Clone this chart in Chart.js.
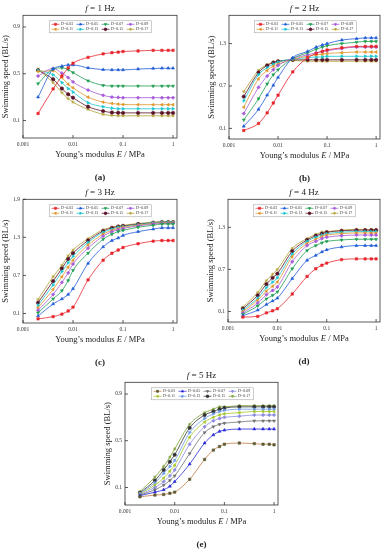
<!DOCTYPE html>
<html>
<head>
<meta charset="utf-8">
<script src="https://cdn.jsdelivr.net/npm/chart.js@4.4.1/dist/chart.umd.min.js"></script>
<style>
  html, body { margin: 0; padding: 0; background: #fff; }
  #fig { position: relative; width: 385px; height: 550px; overflow: hidden;
         font-family: "Liberation Serif", "DejaVu Serif", serif; color: #222; }
  #fig canvas { position: absolute; }
  .txt { position: absolute; transform: translate(-50%, -50%); white-space: nowrap; line-height: 1; }
  .ttl { font-size: 9px; }
  .xt { font-size: 8.5px; }
  .lbl { font-size: 9px; font-weight: bold; }
</style>
</head>
<body>
<div id="fig"></div>
<script>
/* Swimming speed vs Young's modulus, five driving frequencies */
var modulus = [0.002, 0.004, 0.006, 0.008, 0.01, 0.02, 0.04, 0.06, 0.08, 0.1, 0.2, 0.4, 0.6, 0.8, 1];
var dLabels = ['D=0.03', 'D=0.05', 'D=0.07', 'D=0.09', 'D=0.11', 'D=0.13', 'D=0.15', 'D=0.17'];
var xTicks = [0.001, 0.01, 0.1, 1];
var yTicks1 = [0.1, 0.5, 0.9];
var yTicks2 = [0.1, 0.7, 1.3];
var yTicks3 = [0.1, 0.7, 1.3, 1.9];
var yTicks4 = [0.1, 0.7, 1.3];
var yTicks5 = [0.1, 0.5, 0.9];

// one row per D value, columns follow `modulus`
var speed1Hz = [
  [0.16, 0.37, 0.48, 0.55, 0.59, 0.64, 0.67, 0.68, 0.685, 0.69, 0.695, 0.70, 0.70, 0.70, 0.70],
  [0.30, 0.54, 0.565, 0.575, 0.575, 0.55, 0.535, 0.533, 0.533, 0.533, 0.54, 0.545, 0.547, 0.547, 0.547],
  [0.415, 0.54, 0.55, 0.535, 0.51, 0.44, 0.40, 0.395, 0.395, 0.395, 0.395, 0.395, 0.395, 0.395, 0.395],
  [0.48, 0.545, 0.505, 0.467, 0.43, 0.36, 0.315, 0.30, 0.297, 0.295, 0.295, 0.295, 0.295, 0.295, 0.295],
  [0.52, 0.525, 0.467, 0.41, 0.38, 0.30, 0.257, 0.245, 0.24, 0.237, 0.235, 0.235, 0.235, 0.235, 0.235],
  [0.53, 0.49, 0.424, 0.373, 0.343, 0.252, 0.218, 0.205, 0.20, 0.20, 0.20, 0.20, 0.20, 0.20, 0.20],
  [0.53, 0.453, 0.373, 0.324, 0.295, 0.218, 0.18, 0.168, 0.166, 0.165, 0.165, 0.165, 0.165, 0.165, 0.165],
  [0.54, 0.424, 0.338, 0.287, 0.257, 0.195, 0.152, 0.143, 0.14, 0.14, 0.14, 0.14, 0.14, 0.14, 0.14]
];
var speed2Hz = [
  [0.07, 0.17, 0.32, 0.46, 0.57, 0.90, 1.10, 1.16, 1.19, 1.21, 1.24, 1.26, 1.26, 1.26, 1.26],
  [0.13, 0.37, 0.57, 0.71, 0.82, 1.10, 1.19, 1.25, 1.28, 1.30, 1.35, 1.37, 1.38, 1.38, 1.38],
  [0.22, 0.52, 0.73, 0.86, 0.93, 1.09, 1.17, 1.22, 1.25, 1.27, 1.30, 1.32, 1.33, 1.33, 1.33],
  [0.31, 0.68, 0.84, 0.93, 0.99, 1.09, 1.14, 1.17, 1.19, 1.20, 1.23, 1.25, 1.25, 1.25, 1.25],
  [0.40, 0.80, 0.92, 0.98, 1.01, 1.08, 1.12, 1.14, 1.15, 1.16, 1.17, 1.18, 1.18, 1.18, 1.18],
  [0.49, 0.86, 0.96, 1.01, 1.04, 1.08, 1.10, 1.11, 1.11, 1.12, 1.12, 1.12, 1.12, 1.12, 1.12],
  [0.55, 0.89, 0.99, 1.03, 1.05, 1.07, 1.07, 1.07, 1.07, 1.07, 1.07, 1.07, 1.07, 1.07, 1.07],
  [0.62, 0.92, 1.00, 1.04, 1.05, 1.06, 1.05, 1.05, 1.05, 1.05, 1.05, 1.05, 1.05, 1.05, 1.05]
];
var speed3Hz = [
  [0.015, 0.05, 0.09, 0.14, 0.20, 0.63, 0.94, 1.05, 1.10, 1.14, 1.20, 1.24, 1.25, 1.25, 1.25],
  [0.06, 0.25, 0.33, 0.40, 0.49, 0.89, 1.15, 1.25, 1.29, 1.33, 1.39, 1.43, 1.45, 1.45, 1.45],
  [0.11, 0.33, 0.46, 0.62, 0.78, 1.05, 1.27, 1.35, 1.39, 1.41, 1.46, 1.49, 1.51, 1.51, 1.51],
  [0.15, 0.40, 0.59, 0.74, 0.88, 1.13, 1.32, 1.39, 1.42, 1.44, 1.48, 1.51, 1.52, 1.52, 1.52],
  [0.19, 0.48, 0.68, 0.83, 0.94, 1.18, 1.35, 1.41, 1.44, 1.46, 1.49, 1.52, 1.53, 1.53, 1.53],
  [0.23, 0.55, 0.76, 0.90, 1.00, 1.22, 1.38, 1.43, 1.46, 1.47, 1.50, 1.53, 1.54, 1.54, 1.54],
  [0.27, 0.61, 0.81, 0.96, 1.05, 1.25, 1.40, 1.45, 1.47, 1.48, 1.51, 1.53, 1.54, 1.54, 1.54],
  [0.32, 0.68, 0.86, 1.01, 1.10, 1.28, 1.42, 1.46, 1.48, 1.49, 1.52, 1.54, 1.55, 1.55, 1.55]
];
var speed4Hz = [
  [0.02, 0.03, 0.08, 0.11, 0.14, 0.35, 0.60, 0.71, 0.76, 0.79, 0.84, 0.85, 0.85, 0.85, 0.85],
  [0.04, 0.12, 0.20, 0.25, 0.29, 0.57, 0.83, 0.90, 0.95, 0.98, 1.02, 1.04, 1.04, 1.04, 1.04],
  [0.06, 0.18, 0.28, 0.33, 0.38, 0.71, 0.97, 1.04, 1.08, 1.10, 1.12, 1.13, 1.13, 1.13, 1.13],
  [0.08, 0.22, 0.34, 0.40, 0.45, 0.81, 1.04, 1.10, 1.14, 1.16, 1.18, 1.19, 1.19, 1.19, 1.19],
  [0.10, 0.26, 0.39, 0.46, 0.52, 0.88, 1.07, 1.13, 1.17, 1.19, 1.21, 1.22, 1.22, 1.22, 1.22],
  [0.12, 0.29, 0.44, 0.52, 0.58, 0.92, 1.10, 1.16, 1.19, 1.21, 1.23, 1.24, 1.24, 1.24, 1.24],
  [0.14, 0.33, 0.49, 0.58, 0.64, 0.96, 1.12, 1.18, 1.21, 1.23, 1.25, 1.26, 1.26, 1.26, 1.26],
  [0.16, 0.37, 0.54, 0.63, 0.70, 1.00, 1.14, 1.20, 1.23, 1.24, 1.26, 1.27, 1.27, 1.27, 1.27]
];
var speed5Hz = [
  [0.02, 0.035, 0.04, 0.05, 0.06, 0.17, 0.34, 0.42, 0.45, 0.47, 0.48, 0.475, 0.47, 0.47, 0.465],
  [0.03, 0.06, 0.08, 0.11, 0.15, 0.30, 0.48, 0.55, 0.58, 0.59, 0.60, 0.60, 0.60, 0.60, 0.60],
  [0.035, 0.08, 0.12, 0.16, 0.20, 0.39, 0.57, 0.62, 0.64, 0.65, 0.66, 0.67, 0.67, 0.67, 0.67],
  [0.04, 0.10, 0.15, 0.20, 0.25, 0.47, 0.62, 0.67, 0.69, 0.70, 0.71, 0.72, 0.72, 0.72, 0.72],
  [0.045, 0.12, 0.18, 0.24, 0.29, 0.53, 0.66, 0.70, 0.72, 0.73, 0.74, 0.75, 0.75, 0.75, 0.75],
  [0.05, 0.14, 0.22, 0.28, 0.33, 0.57, 0.69, 0.73, 0.75, 0.76, 0.77, 0.77, 0.77, 0.77, 0.77],
  [0.055, 0.16, 0.25, 0.32, 0.38, 0.61, 0.72, 0.75, 0.77, 0.78, 0.79, 0.79, 0.79, 0.79, 0.79],
  [0.065, 0.19, 0.28, 0.36, 0.43, 0.64, 0.74, 0.77, 0.79, 0.79, 0.80, 0.80, 0.80, 0.80, 0.80]
];

var SERIF = '"Liberation Serif", "DejaVu Serif", serif';
var MARKS = [
  { style: 'rect', rot: 0 }, { style: 'triangle', rot: 0 }, { style: 'triangle', rot: 180 }, { style: 'rectRot', rot: 0 },
  { style: 'triangle', rot: 270 }, { style: 'triangle', rot: 90 }, { style: 'circle', rot: 0 }, { style: 'star', rot: 0 }
];
var LINE_AD = ['#e8262e', '#1f5bd8', '#1e9e50', '#a85ad8', '#e0952a', '#19c6d0', '#5a1228', '#b0a030'];
var LINE_E = ['#c07a44', '#2a2ad8', '#707070', '#8c8ce0', '#a6c62a', '#6a9ae8', '#333333', '#7aa030'];
var MARK_E = ['#5c5a34', '#2a2ad8', '#707070', '#8c8ce0', '#a6c62a', '#6a9ae8', '#333333', '#7aa030'];

// plot boxes: [left, top, right, bottom] in page pixels
var PANELS = [
  { plot: [23, 15, 177, 138], yMax: 1.0, yTicks: yTicks1, rows: speed1Hz, f: '1', tag: '(a)', line: LINE_AD, mark: LINE_AD },
  { plot: [229, 15, 380, 139], yMax: 1.7, yTicks: yTicks2, rows: speed2Hz, f: '2', tag: '(b)', line: LINE_AD, mark: LINE_AD },
  { plot: [23, 199, 177, 323], yMax: 1.9, yTicks: yTicks3, rows: speed3Hz, f: '3', tag: '(c)', line: LINE_AD, mark: LINE_AD },
  { plot: [228, 199, 380, 322], yMax: 1.7, yTicks: yTicks4, rows: speed4Hz, f: '4', tag: '(d)', line: LINE_AD, mark: LINE_AD },
  { plot: [125, 382, 278, 505], yMax: 1.0, yTicks: yTicks5, rows: speed5Hz, f: '5', tag: '(e)', line: LINE_E, mark: MARK_E }
];

// box round the plot area plus short inward ticks
var framePlugin = {
  id: 'frame',
  afterDraw: function (chart) {
    var a = chart.chartArea, ctx = chart.ctx, sx = chart.scales.x, sy = chart.scales.y;
    ctx.save();
    ctx.strokeStyle = '#333';
    ctx.lineWidth = 0.8;
    ctx.strokeRect(a.left, a.top, a.right - a.left, a.bottom - a.top);
    ctx.beginPath();
    sx.ticks.forEach(function (t) {
      var px = sx.getPixelForValue(t.value);
      ctx.moveTo(px, a.bottom); ctx.lineTo(px, a.bottom - 3);
    });
    sy.ticks.forEach(function (t) {
      var py = sy.getPixelForValue(t.value);
      ctx.moveTo(a.left, py); ctx.lineTo(a.left + 3, py);
    });
    ctx.stroke();
    ctx.restore();
  }
};

// two-row legend inside the top of the plot area
var insetLegend = {
  id: 'insetLegend',
  afterDatasetsDraw: function (chart) {
    var a = chart.chartArea, ctx = chart.ctx, sets = chart.data.datasets;
    var colW = 25, rowH = 5, w = colW * 4 + 2, h = rowH * 2 + 2;
    var x0 = Math.round((a.left + a.right) / 2 - w / 2) + 0.5, y0 = a.top + 5.5;
    ctx.save();
    ctx.fillStyle = '#fff';
    ctx.fillRect(x0, y0, w, h);
    ctx.strokeStyle = '#999';
    ctx.lineWidth = 0.5;
    ctx.strokeRect(x0, y0, w, h);
    ctx.font = '4px ' + SERIF;
    ctx.textBaseline = 'middle';
    sets.forEach(function (ds, i) {
      var cx = x0 + 1 + (i % 4) * colW, cy = y0 + 1 + rowH * (Math.floor(i / 4) + 0.5);
      ctx.strokeStyle = ds.borderColor;
      ctx.lineWidth = 0.7;
      ctx.beginPath(); ctx.moveTo(cx + 1, cy); ctx.lineTo(cx + 9, cy); ctx.stroke();
      ctx.fillStyle = ds.pointBackgroundColor;
      ctx.strokeStyle = ds.pointBorderColor;
      if (Chart.helpers && Chart.helpers.drawPoint) {
        Chart.helpers.drawPoint(ctx, { pointStyle: ds.pointStyle, rotation: ds.pointRotation, radius: 1.4, borderWidth: 0.5 }, cx + 5, cy);
      } else {
        ctx.fillRect(cx + 4, cy - 1, 2, 2);
      }
      ctx.fillStyle = '#333';
      ctx.fillText(ds.label, cx + 10.5, cy);
    });
    ctx.restore();
  }
};

function addText(cls, html, x, y) {
  var d = document.createElement('div');
  d.className = 'txt ' + cls;
  d.innerHTML = html;
  d.style.left = x + 'px';
  d.style.top = y + 'px';
  document.getElementById('fig').appendChild(d);
}

function makePanel(p) {
  var L = p.plot[0], T = p.plot[1], R = p.plot[2], B = p.plot[3];
  var cv = document.createElement('canvas');
  cv.width = R - L + 29;
  cv.height = B - T + 18;
  cv.style.left = (L - 23) + 'px';
  cv.style.top = (T - 6) + 'px';
  document.getElementById('fig').appendChild(cv);

  var datasets = p.rows.map(function (row, i) {
    return {
      label: dLabels[i],
      data: modulus.map(function (e, k) { return { x: e, y: row[k] }; }),
      borderColor: p.line[i],
      backgroundColor: p.mark[i],
      pointBackgroundColor: p.mark[i],
      pointBorderColor: p.mark[i],
      pointStyle: MARKS[i].style,
      pointRotation: MARKS[i].rot,
      pointRadius: 1.7,
      pointBorderWidth: 0.6,
      borderWidth: 0.8,
      cubicInterpolationMode: 'monotone',
      fill: false
    };
  });

  new Chart(cv.getContext('2d'), {
    type: 'line',
    data: { datasets: datasets },
    plugins: [framePlugin, insetLegend],
    options: {
      responsive: false, animation: false, devicePixelRatio: 1,
      layout: { padding: { left: 0, right: 6, top: 6, bottom: 0 } },
      plugins: { legend: { display: false }, tooltip: { enabled: false } },
      scales: {
        x: {
          type: 'logarithmic', min: 0.001, max: 1.2,
          grid: { display: false, drawTicks: false }, border: { display: false },
          afterBuildTicks: function (s) { s.ticks = xTicks.map(function (v) { return { value: v }; }); },
          afterFit: function (s) { s.height = 12; },
          ticks: { padding: 3, autoSkip: false, maxRotation: 0, color: '#333',
                   font: { family: SERIF, size: 5.5 },
                   callback: function (v) { return String(v); } }
        },
        y: {
          min: -0.05, max: p.yMax,
          grid: { display: false, drawTicks: false }, border: { display: false },
          afterBuildTicks: function (s) { s.ticks = p.yTicks.map(function (v) { return { value: v }; }); },
          afterFit: function (s) { s.width = 23; },
          ticks: { padding: 3, color: '#333', font: { family: SERIF, size: 5.5 },
                   callback: function (v) { return Number(v).toFixed(1); } },
          title: { display: true, text: 'Swimming speed (BL/s)', color: '#222',
                   font: { family: SERIF, size: 8.5 }, padding: { top: 1, bottom: 0 } }
        }
      }
    }
  });

  var cx = (L + R) / 2;
  addText('ttl', '<i>f</i> = ' + p.f + ' Hz', cx, T - 7);
  addText('xt', 'Young\u2019s modulus <i>E</i> / MPa', cx, B + 16);
  addText('lbl', p.tag, cx, B + 39);
}

PANELS.forEach(makePanel);
</script>
</body>
</html>
